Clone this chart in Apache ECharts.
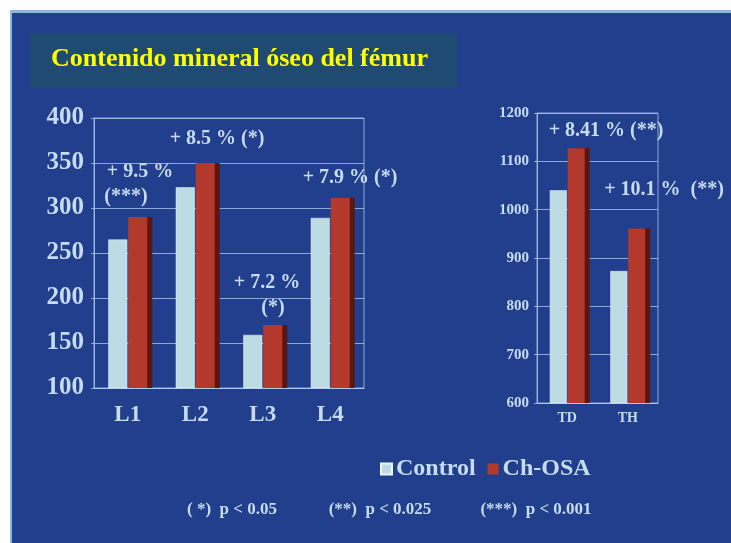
<!DOCTYPE html>
<html>
<head>
<meta charset="utf-8">
<script src="https://cdn.jsdelivr.net/npm/echarts@6/dist/echarts.min.js"></script>
<style>html,body{margin:0;padding:0;background:#fff;}#c{width:731px;height:543px;}</style>
</head>
<body>
<div id="c"></div>
<script>
// ---- data ----
var titleText = 'Contenido mineral óseo del fémur';
var seriesNames = ['Control', 'Ch-OSA'];
var catsLeft = ['L1', 'L2', 'L3', 'L4'];
var controlLeft = [265, 323, 159, 289];
var chosaLeft = [290, 350, 170, 311];
var catsRight = ['TD', 'TH'];
var controlRight = [1040, 873];
var chosaRight = [1127, 961];
var annotLeft = ['+ 8.5 % (*)', '+ 9.5 %', '(***)', '+ 7.9 % (*)', '+ 7.2 %', '(*)'];
var annotRight = ['+ 8.41 % (**)', '+ 10.1 %  (**)'];
var footnotes = ['( *)  p < 0.05', '(**)  p < 0.025', '(***)  p < 0.001'];

var txtColor = '#c6dcef';
var gridColor = 'rgba(175,205,238,0.75)';
var serif = '"Liberation Serif","DejaVu Serif",serif';
var ctrlColor = '#bcdbe3';
var redColor = '#b2392b';

var chart = echarts.init(document.getElementById('c'));

function annot(t, x, y, size) {
  return {type: 'text', x: x, y: y, style: {text: t, fill: txtColor, font: 'bold ' + (size || 20) + 'px ' + serif, textAlign: 'center', textVerticalAlign: 'middle'}};
}

var graphics = [
  {type: 'rect', shape: {x: 10, y: 10, width: 721, height: 533}, style: {fill: '#223f8e'}, z: -10},
  {type: 'rect', shape: {x: 10, y: 10, width: 721, height: 3}, style: {fill: '#8db9da'}, z: -9},
  {type: 'rect', shape: {x: 10, y: 10, width: 2, height: 533}, style: {fill: '#8db9da'}, z: -9},
  {type: 'rect', shape: {x: 30, y: 33, width: 427, height: 55}, style: {fill: '#1f4a72'}, z: -8},
  annot(annotLeft[0], 217, 139),
  annot(annotLeft[1], 140, 172),
  annot(annotLeft[2], 126, 197),
  annot(annotLeft[3], 350, 178),
  annot(annotLeft[4], 267, 283),
  annot(annotLeft[5], 273, 308),
  annot(annotRight[0], 606, 131),
  annot(annotRight[1], 664, 190),
  annot(footnotes[0], 232, 510, 17),
  annot(footnotes[1], 380, 510, 17),
  annot(footnotes[2], 536, 510, 17)
];

var option = {
  backgroundColor: '#ffffff',
  animation: false,
  title: {
    text: titleText, left: 51, top: 46, padding: 0,
    textStyle: {color: '#ffff00', fontFamily: serif, fontWeight: 'bold', fontSize: 26}
  },
  legend: {
    data: seriesNames, left: 375, top: 452, icon: 'rect', itemWidth: 11, itemHeight: 11, itemGap: 12,
    textStyle: {color: txtColor, fontFamily: serif, fontWeight: 'bold', fontSize: 24, padding: [0, 0, 0, -1]}
  },
  graphic: graphics,
  grid: [
    {left: 94, top: 118, width: 270, height: 270, show: true, borderColor: gridColor, borderWidth: 1},
    {left: 537, top: 113, width: 121, height: 290, show: true, borderColor: gridColor, borderWidth: 1}
  ],
  xAxis: [
    {type: 'category', gridIndex: 0, data: catsLeft,
     axisLine: {lineStyle: {color: gridColor}}, axisTick: {show: false},
     axisLabel: {color: txtColor, fontFamily: serif, fontWeight: 'bold', fontSize: 23, margin: 16}},
    {type: 'category', gridIndex: 1, data: catsRight,
     axisLine: {lineStyle: {color: gridColor}}, axisTick: {show: false},
     axisLabel: {color: txtColor, fontFamily: serif, fontWeight: 'bold', fontSize: 14, margin: 8}}
  ],
  yAxis: [
    {type: 'value', gridIndex: 0, min: 100, max: 400, interval: 50,
     axisLine: {show: true, lineStyle: {color: gridColor}}, axisTick: {show: true, length: 3, lineStyle: {color: gridColor}},
     splitLine: {lineStyle: {color: gridColor}},
     axisLabel: {color: txtColor, fontFamily: serif, fontWeight: 'bold', fontSize: 25, margin: 10}},
    {type: 'value', gridIndex: 1, min: 600, max: 1200, interval: 100,
     axisLine: {show: true, lineStyle: {color: gridColor}}, axisTick: {show: true, length: 3, lineStyle: {color: gridColor}},
     splitLine: {lineStyle: {color: gridColor}},
     axisLabel: {color: txtColor, fontFamily: serif, fontWeight: 'bold', fontSize: 15, margin: 8,
                 formatter: function (v) { return String(v); }}}
  ],
  series: [
    {name: seriesNames[0], type: 'bar', xAxisIndex: 0, yAxisIndex: 0, data: controlLeft, barWidth: 19, barGap: '5%',
     itemStyle: {color: ctrlColor, borderColor: '#eef7fa', borderWidth: 0.5}},
    {name: seriesNames[1], type: 'bar', xAxisIndex: 0, yAxisIndex: 0, data: chosaLeft, barWidth: 19, barGap: '5%',
     itemStyle: {color: redColor, shadowColor: '#5c1610', shadowOffsetX: 5, shadowBlur: 0}},
    {name: seriesNames[0], type: 'bar', xAxisIndex: 1, yAxisIndex: 1, data: controlRight, barWidth: 17, barGap: '5%',
     itemStyle: {color: ctrlColor, borderColor: '#eef7fa', borderWidth: 0.5}},
    {name: seriesNames[1], type: 'bar', xAxisIndex: 1, yAxisIndex: 1, data: chosaRight, barWidth: 17, barGap: '5%',
     itemStyle: {color: redColor, shadowColor: '#5c1610', shadowOffsetX: 5, shadowBlur: 0}}
  ]
};
chart.setOption(option);
</script>
</body>
</html>
